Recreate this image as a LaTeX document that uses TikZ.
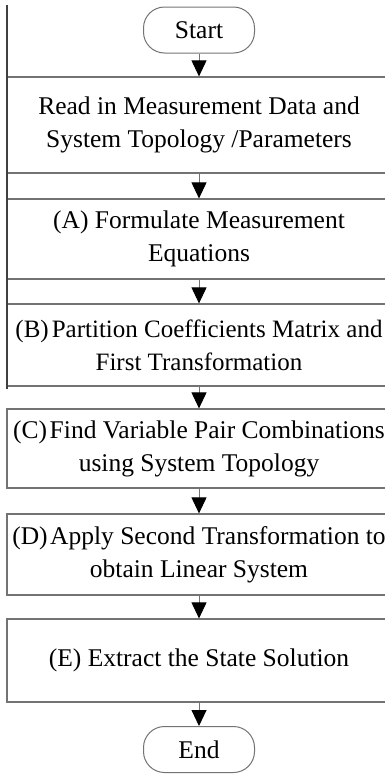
\documentclass[tikz,border=0pt]{standalone}
\usepackage{fontspec}
\setmainfont{Liberation Serif}
\usetikzlibrary{arrows.meta}

\begin{document}
\begin{tikzpicture}[x=1pt,y=-1pt,
  stepbox/.style={draw=black!55,line width=1.2pt,minimum width=384pt,inner sep=0pt,align=center,font=\fontsize{25.5}{33}\selectfont},
  term/.style={draw=black!55,line width=1pt,rounded corners=21pt,minimum width=111pt,minimum height=46pt,inner sep=0pt,font=\fontsize{25.5}{33}\selectfont},
  flow/.style={draw=black!55,line width=0.9pt,-{Triangle[length=16pt,width=15pt,color=black]}}]
  \useasboundingbox (0,0) rectangle (385,774);
  \clip (0,0) rectangle (385,774);
  \node[term] (start) at (199,30) {Start};
  \node[stepbox,minimum height=96pt] (read) at (199,125) {Read in Measurement Data and\\System Topology /Parameters};
  \node[stepbox,minimum height=80pt] (stepA) at (199,239) {(A) Formulate Measurement\\Equations};
  \node[stepbox,minimum height=82pt,font=\fontsize{25}{33}\selectfont] (stepB) at (199,345) {(B)\hspace{3pt}Partition Coefficients Matrix and\\First Transformation};
  \node[stepbox,minimum height=79pt] (stepC) at (199,448.5) {(C)\hspace{2.5pt}Find Variable Pair Combinations\\using System Topology};
  \node[stepbox,minimum height=81pt] (stepD) at (199,554.5) {(D)\hspace{2.5pt}Apply Second Transformation to\\obtain Linear System};
  \node[stepbox,minimum height=83pt] (stepE) at (199,660.5) {(E) Extract the State Solution};
  \node[term] (finish) at (199,749.5) {End};
  \coordinate (railtop) at (7,5);
  \coordinate (railbot) at (7,389);
  \draw[line width=1.2pt,black!75] (railtop) -- (railbot);
  \foreach \a/\b in {start/read,read/stepA,stepA/stepB,stepB/stepC,stepC/stepD,stepD/stepE,stepE/finish}
    \draw[flow] (\a) -- (\b);
\end{tikzpicture}
\end{document}
